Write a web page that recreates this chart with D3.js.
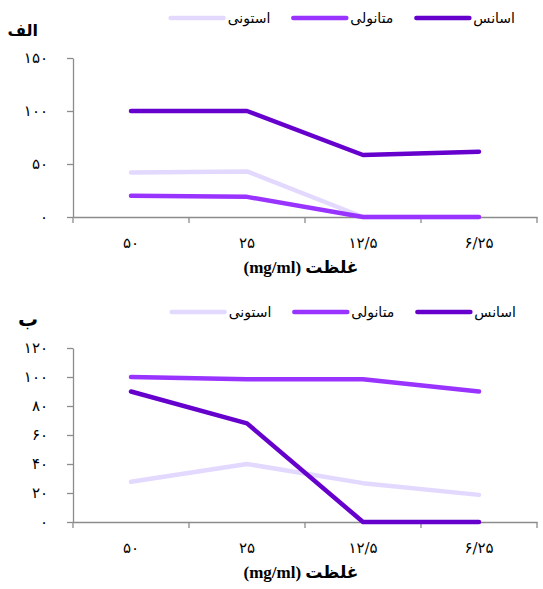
<!DOCTYPE html>
<html>
<head>
<meta charset="utf-8">
<script src="https://cdn.jsdelivr.net/npm/d3@7"></script>
<style>
  body { margin: 0; background: #fff; }
  svg { display: block; }
  text { font-family: "DejaVu Sans", "Noto Sans", sans-serif; }
</style>
</head>
<body>
<svg id="chart" width="543" height="589"></svg>
<script>
// categories (concentration, mg/ml)
const concentrations = ["۵۰", "۲۵", "۱۲/۵", "۶/۲۵"];
const seriesNames = ["اسانس", "متانولی", "استونی"];
const seriesColors = ["#6600cc", "#9933ff", "#e3d9ff"];

// chart الف
const essenceA = [100, 100, 58.5, 61.6];
const methanolA = [20, 19, 0, 0];
const acetoneA = [42, 43, 0, 0];
const ticksA = [0, 50, 100, 150];

// chart ب
const essenceB = [90, 68, 0, 0];
const methanolB = [100, 98.5, 98.5, 90];
const acetoneB = [27.7, 40, 26.8, 18.7];
const ticksB = [0, 20, 40, 60, 80, 100, 120];

const axisColor = "#8c8c8c";
const faDigits = "۰۱۲۳۴۵۶۷۸۹";
const toFa = n => String(n).replace(/\d/g, c => faDigits[+c]);

const svg = d3.select("#chart");

function drawChart(cfg) {
    const g = svg.append("g");

    const x = d3.scaleBand()
        .domain(concentrations)
        .range([73, 537]);
    const y = d3.scaleLinear()
        .domain([0, cfg.yMax])
        .range([cfg.yBottom, cfg.yTop]);

    // y axis
    const yAxis = g.append("g")
        .attr("transform", "translate(73,0)")
        .call(d3.axisLeft(y).tickValues(cfg.ticks).tickFormat(toFa).tickSize(6).tickSizeOuter(0).tickPadding(19));
    yAxis.select(".domain").attr("stroke", axisColor).attr("stroke-width", 1.3);
    yAxis.selectAll(".tick line").attr("stroke", axisColor).attr("stroke-width", 1.3);
    yAxis.selectAll(".tick text")
        .attr("fill", "#000")
        .style("font-family", "'DejaVu Serif', 'DejaVu Sans', serif")
        .style("font-size", "15px");

    // x axis: labels centered in bands, ticks at band edges
    const xAxis = g.append("g")
        .attr("transform", `translate(0,${cfg.yBottom})`)
        .call(d3.axisBottom(x).tickSize(0).tickSizeOuter(0).tickPadding(20));
    xAxis.select(".domain").attr("stroke", axisColor).attr("stroke-width", 1.3);
    xAxis.selectAll(".tick text")
        .attr("fill", "#000")
        .style("font-family", "'DejaVu Serif', 'DejaVu Sans', serif")
        .style("font-size", "15px");

    const edges = concentrations.map(c => x(c)).concat([x.range()[1]]);
    xAxis.selectAll(".edge")
        .data(edges)
        .join("line")
        .attr("class", "edge")
        .attr("x1", d => d).attr("x2", d => d)
        .attr("y1", 0).attr("y2", 6)
        .attr("stroke", axisColor)
        .attr("stroke-width", 1.3);

    // x axis title
    g.append("text")
        .attr("x", 301)
        .attr("y", cfg.yBottom + 56)
        .attr("text-anchor", "middle")
        .attr("direction", "rtl")
        .style("font-family", "'Liberation Serif', 'DejaVu Sans', serif")
        .style("font-weight", "bold")
        .style("font-size", "17px")
        .text("غلظت (mg/ml)");

    // panel label
    g.append("text")
        .attr("x", 38)
        .attr("y", cfg.labelY)
        .attr("text-anchor", "end")
        .style("font-weight", "bold")
        .style("font-size", cfg.labelSize)
        .text(cfg.label);

    // lines (light series drawn first so darker ones sit on top)
    const line = d3.line()
        .x((d, i) => x(concentrations[i]) + x.bandwidth() / 2)
        .y(d => y(d));

    [2, 1, 0].forEach(k => {
        g.append("path")
            .datum(cfg.series[k])
            .attr("d", line)
            .attr("fill", "none")
            .attr("stroke", seriesColors[k])
            .attr("stroke-width", 4.5)
            .attr("stroke-linecap", "round")
            .attr("stroke-linejoin", "round");
    });

    // legend, right to left
    const legend = g.append("g");
    let right = cfg.legendRight;
    seriesNames.forEach((name, k) => {
        const t = legend.append("text")
            .attr("x", right)
            .attr("y", cfg.legendY + 5)
            .attr("text-anchor", "end")
            .style("font-size", "14px")
            .text(name);
        const w = t.node().getComputedTextLength();
        const lineEnd = right - w - 4;
        legend.append("line")
            .attr("x1", lineEnd - 53).attr("x2", lineEnd)
            .attr("y1", cfg.legendY).attr("y2", cfg.legendY)
            .attr("stroke", seriesColors[k])
            .attr("stroke-width", 4.5)
            .attr("stroke-linecap", "round");
        right = lineEnd - 53 - 23;
    });
}

drawChart({
    label: "الف", labelY: 36, labelSize: "16px",
    series: [essenceA, methanolA, acetoneA],
    ticks: ticksA, yMax: 150, yTop: 58, yBottom: 217,
    legendRight: 515, legendY: 18
});

drawChart({
    label: "ب", labelY: 326, labelSize: "20px",
    series: [essenceB, methanolB, acetoneB],
    ticks: ticksB, yMax: 120, yTop: 348, yBottom: 522,
    legendRight: 516, legendY: 312
});
</script>
</body>
</html>
